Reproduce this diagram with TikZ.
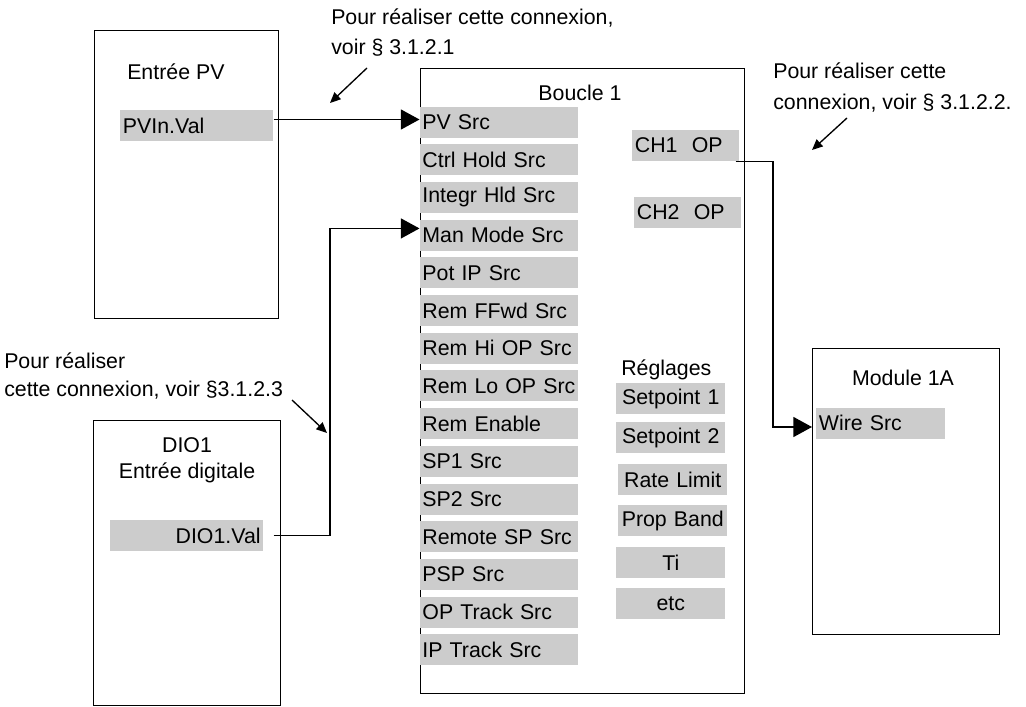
\documentclass[tikz,border=0pt]{standalone}
\usepackage{fontspec}
\setmainfont{Liberation Sans}
\usetikzlibrary{arrows.meta}
\definecolor{barfill}{RGB}{204,204,204}

\begin{document}
\begin{tikzpicture}[x=0.75pt,y=0.75pt,yscale=-1,xscale=1,
	every node/.style={font=\fontsize{16}{22.5}\selectfont},
	box/.style={draw, line width=1.1pt, inner sep=0pt, anchor=north west},
	bar/.style={fill=barfill, inner xsep=2pt, inner ysep=0pt, minimum height=23.25pt, anchor=west},
	lbar/.style={bar, text width=114.5pt, align=left},
	setbar/.style={bar, text width=77.75pt, align=center},
	conn/.style={line width=1.1pt, -{Triangle[length=14pt,width=15pt]}},
	hint/.style={line width=1pt, -{Triangle[length=8pt,width=7pt]}},
	note/.style={anchor=west, inner sep=0pt, align=left}]
	\useasboundingbox (0,0) rectangle (1026,707);
	
	%Shape: Rectangle [Entree PV]
	\node[box, minimum width=138pt, minimum height=216pt] (pvbox) at (94,30) {};
	%Shape: Rectangle [Boucle 1]
	\node[box, minimum width=243pt, minimum height=468.75pt] (loopbox) at (420,68) {};
	%Shape: Rectangle [Module 1A]
	\node[box, minimum width=140.25pt, minimum height=214.5pt] (modbox) at (812,348) {};
	%Shape: Rectangle [DIO1]
	\node[box, minimum width=140.25pt, minimum height=213.75pt] (diobox) at (93,420) {};
	
	% Text Node
	\node[anchor=west, inner sep=0pt] (pvtitle) at (127,72) {Entrée PV};
	% Text Node
	\node (looptitle) at (580,93) {Boucle 1};
	% Text Node
	\node (modtitle) at (903,378) {Module 1A};
	% Text Node
	\node[align=center, font=\fontsize{16}{19.5}\selectfont] (diotitle) at (187,460) {DIO1\\Entrée digitale};
	% Text Node
	\node[anchor=west, inner sep=0pt] (regtitle) at (621,370) {Réglages};
	
	%Shape: Bars [Boucle 1 inputs]
	\foreach \txt [count=\i] in {PV Src, Ctrl Hold Src, Integr Hld Src, Man Mode Src, Pot IP Src,
		Rem FFwd Src, Rem Hi OP Src, Rem Lo OP Src, Rem Enable, SP1 Src, SP2 Src,
		Remote SP Src, PSP Src, OP Track Src, IP Track Src}
		\node[lbar] (src\i) at (419.5,{84.3+37.7*\i}) {\mbox{\txt}};
	
	%Shape: Bars [outputs]
	\node[bar, text width=76.25pt, align=left] (ch1) at (632,145.5) {CH1~~OP};
	\node[bar, text width=76.25pt, align=left] (ch2) at (634,212) {CH2~~OP};
	
	%Shape: Bars [Reglages]
	\node[setbar] (setA) at (616,398.5) {Setpoint 1};
	\node[setbar] (setB) at (616,437.5) {Setpoint 2};
	\node[setbar] (rate) at (618,479.5) {Rate Limit};
	\node[setbar] (band) at (618,520.5) {Prop Band};
	\node[setbar] (ti) at (616,562.5) {Ti};
	\node[setbar] (etc) at (616,603.5) {etc};
	
	%Shape: Bars [sources and target]
	\node[bar, text width=110.75pt, align=left] (pvval) at (120,125.5) {PVIn.Val};
	\node[bar, text width=110.75pt, align=right] (dioval) at (110,535.5) {DIO1.Val};
	\node[bar, text width=92.75pt, align=left] (wire) at (816,423) {Wire Src};
	
	%Straight Lines [connections]
	\coordinate (kneeA) at (330,0);
	\coordinate (kneeB) at (773,0);
	\draw[conn] ([yshift=-4.5pt]pvval.east) -- ([yshift=-4.5pt]pvval.east -| src1.west);
	\draw[conn] ([xshift=7.5pt]dioval.east) -| ([yshift=-5pt]src4.west -| kneeA) -- ([yshift=-5pt]src4.west);
	\draw[conn] ([xshift=-3pt]ch1.south east) -| ([yshift=3pt]wire.west -| kneeB) -- ([xshift=-3pt,yshift=3pt]wire.west);
	
	% Text Node
	\node[note] (noteA) at (331,33) {Pour réaliser cette connexion,\\voir § 3.1.2.1};
	% Text Node
	\node[note, font=\fontsize{16}{23.6}\selectfont] (noteB) at (773,87.5) {Pour réaliser cette\\connexion, voir § 3.1.2.2.};
	% Text Node
	\node[note, font=\fontsize{16}{21}\selectfont] (noteC) at (4,376) {Pour réaliser\\cette connexion, voir §3.1.2.3};
	
	%Straight Lines [hints]
	\coordinate (hintA1) at (367,68);
	\coordinate (hintA2) at (330,103);
	\coordinate (hintB1) at (847,118);
	\coordinate (hintB2) at (812,150);
	\coordinate (hintC1) at (292,400);
	\coordinate (hintC2) at (327,433);
	\draw[hint] (hintA1) -- (hintA2);
	\draw[hint] (hintB1) -- (hintB2);
	\draw[hint] (hintC1) -- (hintC2);
	
\end{tikzpicture}
\end{document}
